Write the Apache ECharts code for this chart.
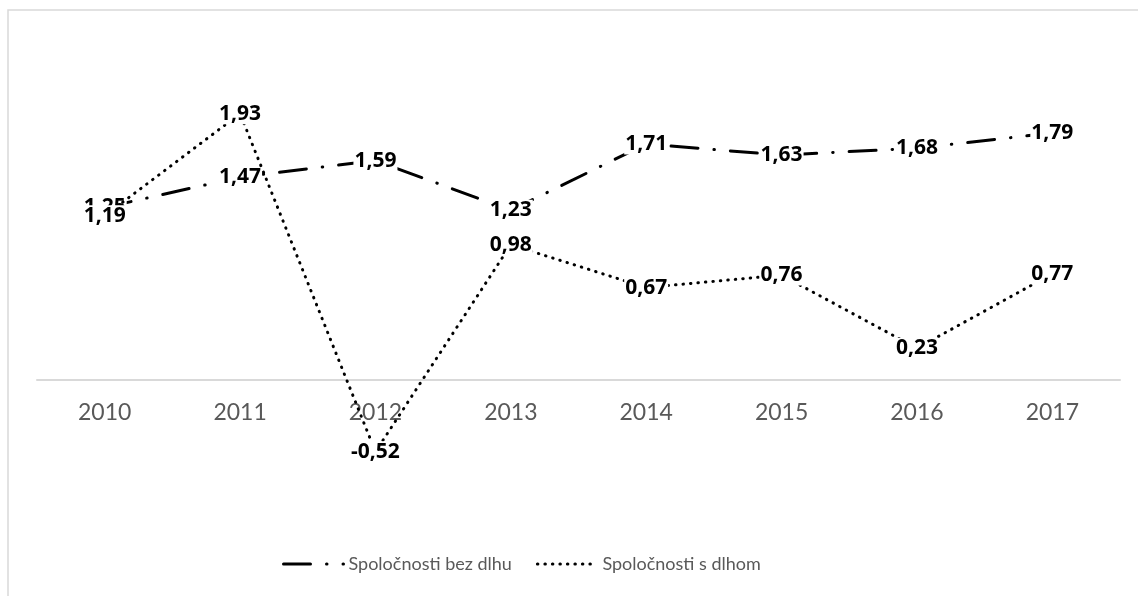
<!DOCTYPE html>
<html>
<head>
<meta charset="utf-8">
<script src="https://cdn.jsdelivr.net/npm/echarts@6/dist/echarts.min.js"></script>
<style>
  html, body { margin: 0; padding: 0; background: #fff; }
  #chart { width: 1138px; height: 596px; }
</style>
</head>
<body>
<div id="chart"></div>
<script>
const years = ['2010', '2011', '2012', '2013', '2014', '2015', '2016', '2017']
const bezDlhu = [1.25, 1.47, 1.59, 1.23, 1.71, 1.63, 1.68, 1.79]
const sDlhom = [1.19, 1.93, -0.52, 0.98, 0.67, 0.76, 0.23, 0.77]
const seriesNames = ['Spoločnosti bez dlhu', 'Spoločnosti s dlhom']

const font = 'Lato, "Open Sans", sans-serif'
const fmt = p => p.value.toFixed(2).replace('.', ',')

function lineSeries(name, data, dash, z) {
  return {
    name: name,
    type: 'line',
    data: data,
    z: z,
    symbol: 'circle',
    symbolSize: 1,
    itemStyle: { color: 'rgba(0,0,0,0)' },
    lineStyle: { color: '#000', width: 3, type: dash, cap: 'round' },
    label: {
      show: true,
      position: 'inside',
      formatter: fmt,
      color: '#000',
      fontFamily: '"Open Sans", Lato, sans-serif',
      fontWeight: 'bold',
      fontSize: 21,
      backgroundColor: '#fff',
      padding: [0, 1]
    },
    emphasis: { disabled: true },
    animation: false
  }
}

let chart = echarts.init(document.getElementById('chart'))
chart.setOption({
  backgroundColor: '#fff',
  graphic: [{
    type: 'rect',
    shape: { x: 8, y: 10, width: 1300, height: 800 },
    style: { fill: 'none', stroke: '#d9d9d9', lineWidth: 1.5 },
    silent: true
  }],
  grid: { left: 37, right: 18, top: 104, bottom: 78 },
  xAxis: {
    type: 'category',
    data: years,
    boundaryGap: true,
    position: 'bottom',
    offset: -138,
    axisLine: { show: true, onZero: false, lineStyle: { color: '#d9d9d9', width: 2 } },
    axisTick: { show: false },
    axisLabel: { color: '#595959', fontFamily: font, fontSize: 23, margin: 21 }
  },
  yAxis: {
    type: 'value',
    min: -1,
    max: 2,
    interval: 1,
    show: false,
    splitLine: { show: false }
  },
  legend: {
    data: seriesNames,
    left: 277,
    top: 550,
    itemWidth: 60,
    itemHeight: 14,
    itemGap: 24,
    lineStyle: { width: 3 },
    textStyle: { color: '#595959', fontFamily: font, fontSize: 18 }
  },
  series: [
    lineSeries(seriesNames[0], bezDlhu, [27, 16, 0.5, 16], 2),
    lineSeries(seriesNames[1], sDlhom, [0.5, 7], 3)
  ]
})
</script>
</body>
</html>
